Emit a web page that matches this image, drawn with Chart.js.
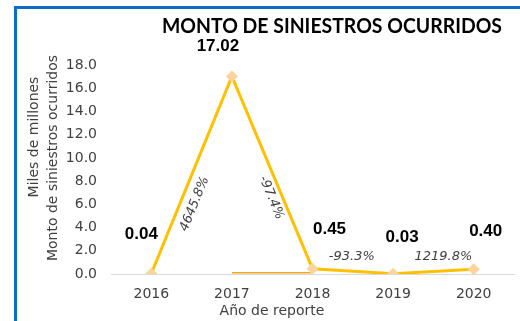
<!DOCTYPE html>
<html lang="es">
<head>
<meta charset="utf-8">
<title>Monto de siniestros ocurridos</title>
<script src="https://cdn.jsdelivr.net/npm/chart.js@4.4.1/dist/chart.umd.min.js"></script>
<style>
  html, body { margin: 0; padding: 0; background: #fff; }
  #wrap { width: 520px; height: 321px; position: relative; }
</style>
</head>
<body>
<div id="wrap"><canvas id="chart-siniestros"></canvas></div>
<script>
// datos del gráfico
const anios = ["2016", "2017", "2018", "2019", "2020"];
const montos = [0.04, 17.02, 0.45, 0.03, 0.40];
const variaciones = ["4645.8%", "-97.4%", "-93.3%", "1219.8%"];
const lineaBase = [null, 0.1, 0.1, null, null];
const ejeYMin = 0;
const ejeYMax = 18;
const ejeYPaso = 2;

const titulo = "MONTO DE SINIESTROS OCURRIDOS";
const tituloEjeY = ["Miles de millones", "Monto de siniestros ocurridos"];
const tituloEjeX = "Año de reporte";

const FUENTE = "'DejaVu Sans', sans-serif";
const FUENTE_NUM = "'Liberation Sans', Arial, sans-serif";
const GRIS = "#404040";

// desplazamiento de las etiquetas de valor respecto a cada punto
const desplValor = [[-10, -39], [-14, -30], [17, -39], [9, -36], [12, -38]];
// desplazamiento de las etiquetas de variación respecto al centro del tramo
const desplVar = [
  { dx: 3, dy: 29, girar: true },
  { dx: -1, dy: 25, girar: true },
  { dx: -1, dy: -15, girar: false },
  { dx: 10, dy: -15, girar: false },
];

const marco = {
  id: "marco",
  beforeDraw(chart) {
    const ctx = chart.ctx;
    ctx.save();
    ctx.fillStyle = "#fff";
    ctx.fillRect(0, 0, chart.width, chart.height);
    ctx.strokeStyle = "#0A6EC8";
    ctx.lineWidth = 3;
    ctx.beginPath();
    ctx.moveTo(15.5, chart.height + 2);
    ctx.lineTo(15.5, 7.5);
    ctx.lineTo(chart.width + 2, 7.5);
    ctx.stroke();
    ctx.restore();
  },
};

const anotaciones = {
  id: "anotaciones",
  afterDraw(chart) {
    const ctx = chart.ctx;
    const pts = chart.getDatasetMeta(0).data;
    ctx.save();
    ctx.textAlign = "center";
    ctx.textBaseline = "middle";

    // título
    ctx.fillStyle = "#000";
    ctx.font = "bold 20px Lato, " + FUENTE;
    const anchoT = ctx.measureText(titulo).width;
    ctx.save();
    ctx.translate(332, 26);
    ctx.scale(340 / anchoT, 1.05);
    ctx.fillText(titulo, 0, 0);
    ctx.restore();

    // etiquetas de valor
    ctx.font = "bold 17px " + FUENTE_NUM;
    ctx.fillStyle = "#000";
    montos.forEach((v, i) => {
      const p = pts[i];
      ctx.fillText(v.toFixed(2), p.x + desplValor[i][0], p.y + desplValor[i][1]);
    });

    // variaciones entre años
    ctx.font = "oblique 13px " + FUENTE;
    ctx.fillStyle = GRIS;
    variaciones.forEach((txt, i) => {
      const a = pts[i], b = pts[i + 1];
      const cx = (a.x + b.x) / 2 + desplVar[i].dx;
      const cy = (a.y + b.y) / 2 + desplVar[i].dy;
      const ang = desplVar[i].girar ? Math.atan2(b.y - a.y, b.x - a.x) : 0;
      ctx.save();
      ctx.translate(cx, cy);
      ctx.rotate(ang);
      ctx.fillText(txt, 0, 0);
      ctx.restore();
    });

    // títulos de ejes
    ctx.font = "14px " + FUENTE;
    ctx.fillStyle = GRIS;
    ctx.fillText(tituloEjeX, 272, 311);
    const ejeY = [[34, 137], [53, 158]];
    tituloEjeY.forEach((txt, i) => {
      ctx.save();
      ctx.translate(ejeY[i][0], ejeY[i][1]);
      ctx.rotate(-Math.PI / 2);
      ctx.fillText(txt, 0, 0);
      ctx.restore();
    });
    ctx.restore();
  },
};

new Chart(document.getElementById("chart-siniestros"), {
  type: "line",
  data: {
    labels: anios,
    datasets: [
      {
        label: "Monto",
        data: montos,
        borderColor: "#FFC000",
        borderWidth: 3,
        tension: 0,
        fill: false,
        pointStyle: "rectRot",
        pointRadius: 6,
        pointBackgroundColor: "#FDD49B",
        pointBorderColor: "#FDD49B",
        pointBorderWidth: 0,
        order: 1,
      },
      {
        label: "Base",
        data: lineaBase,
        borderColor: "#F5A623",
        borderWidth: 1.5,
        pointRadius: 0,
        fill: false,
        order: 2,
      },
    ],
  },
  options: {
    responsive: true,
    maintainAspectRatio: false,
    animation: false,
    layout: { padding: { top: 65, right: 5, left: 0, bottom: 0 } },
    plugins: {
      legend: { display: false },
      title: { display: false },
      tooltip: { enabled: false },
    },
    scales: {
      x: {
        offset: true,
        grid: { display: false, drawTicks: false },
        border: { display: true, color: "#D9D9D9", width: 1 },
        ticks: { font: { family: FUENTE, size: 14 }, color: GRIS, padding: 12 },
        afterFit: (s) => { s.height = 47; },
      },
      y: {
        min: ejeYMin,
        max: ejeYMax,
        grid: { display: false, drawTicks: false },
        border: { display: false },
        ticks: {
          stepSize: ejeYPaso,
          font: { family: FUENTE, size: 14 },
          color: GRIS,
          padding: 14,
          callback: (v) => v.toFixed(1),
        },
        afterFit: (s) => { s.width = 111; },
      },
    },
  },
  plugins: [marco, anotaciones],
});
</script>
</body>
</html>
